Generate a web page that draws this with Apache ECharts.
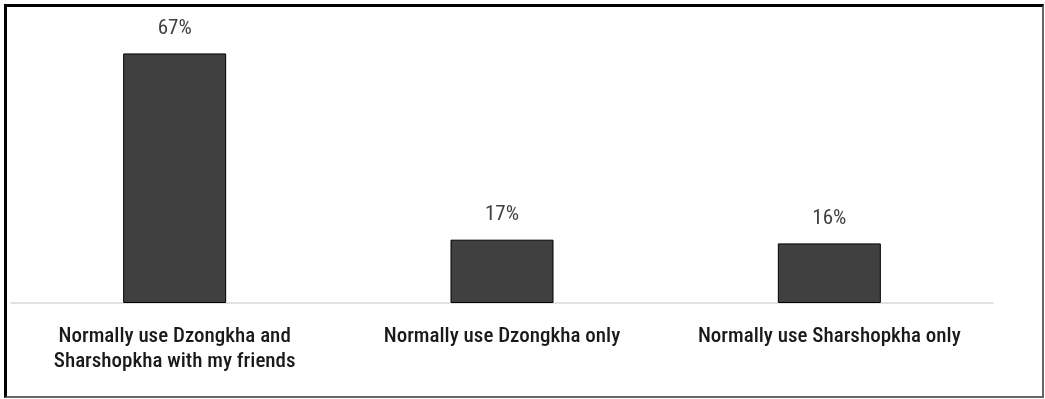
<!DOCTYPE html>
<html><head><meta charset="utf-8">
<script src="https://cdn.jsdelivr.net/npm/echarts@6/dist/echarts.min.js"></script>
<style>
html,body{margin:0;padding:0;background:#fff;}
#c{position:absolute;left:0;top:0;width:1045px;height:399px;}
#frame{position:absolute;left:4px;top:4px;width:1040px;height:394px;box-sizing:border-box;
border-top:3px solid #000;border-left:3px solid #000;border-right:2px solid #666;border-bottom:2px solid #666;pointer-events:none;}
</style></head>
<body>
<div id="c"></div>
<div id="frame"></div>
<script>
const categories = ["Normally use Dzongkha and\nSharshopkha with my friends", "Normally use Dzongkha only", "Normally use Sharshopkha only"];
const values = [67, 17, 16];
const FONT = "'Roboto Condensed', 'Liberation Sans', sans-serif";
const chart = echarts.init(document.getElementById('c'));
chart.setOption({
  animation:false,
  grid:{left:11, right:52, top:5, bottom:96, containLabel:false},
  xAxis:{type:'category', data:categories,
    axisLine:{lineStyle:{color:'#d9d9d9', width:1.5}}, axisTick:{show:false},
    axisLabel:{color:'#1a1a1a', fontFamily:FONT, fontSize:21, fontWeight:500, lineHeight:25, margin:21, interval:0}},
  yAxis:{type:'value', min:0, max:80, show:false, splitLine:{show:false}},
  series:[{type:'bar', data:values, barWidth:103,
    itemStyle:{color:'#404040', borderColor:'#000', borderWidth:1},
    label:{show:true, position:'top', distance:14, formatter:'{c}%', color:'#404040', fontFamily:FONT, fontSize:21}}]
});
</script>
</body></html>
